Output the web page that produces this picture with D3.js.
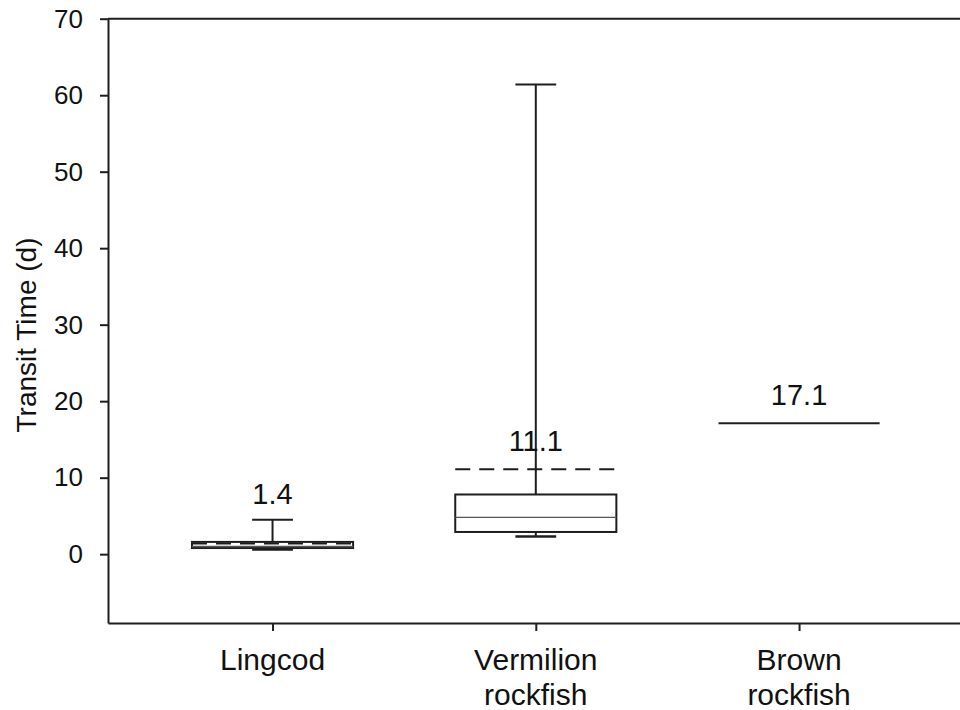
<!DOCTYPE html>
<html>
<head>
<meta charset="utf-8">
<script src="https://cdn.jsdelivr.net/npm/d3@7"></script>
<style>
  html, body { margin: 0; padding: 0; background: #fff; }
  svg { display: block; }
  text { font-family: "Liberation Sans", Arial, Helvetica, sans-serif; fill: #111; }
</style>
</head>
<body>
<svg id="chart" width="960" height="710"></svg>
<script>
// ---- data ----
const categories = ["Lingcod", "Vermilion rockfish", "Brown rockfish"];
const categoryLines = [["Lingcod"], ["Vermilion", "rockfish"], ["Brown", "rockfish"]];
const whiskerLow  = [0.6, 2.3, null];
const q1          = [0.8, 2.9, 17.1];
const median      = [1.0, 4.8, 17.1];
const q3          = [1.6, 7.8, 17.1];
const whiskerHigh = [4.5, 61.4, null];
const means       = [1.4, 11.1, 17.1];
const meanLabels  = ["1.4", "11.1", "17.1"];
const yTicks      = [0, 10, 20, 30, 40, 50, 60, 70];
const yTitle      = "Transit Time (d)";

// ---- layout ----
const svg = d3.select("#chart");
const plotLeft = 108, plotTop = 18.7, plotBottom = 623, plotRightEnd = 963.6;
const ink = "#1e1e1e";

const x = d3.scalePoint().domain(categories).range([plotLeft, plotRightEnd]).padding(0.625);
const y = d3.scaleLinear().domain([-9, 70]).range([plotBottom, plotTop]);

const boxW = x.step() * 0.612;
const capW = x.step() * 0.155;

// top frame line
svg.append("line")
  .attr("x1", plotLeft).attr("x2", plotRightEnd)
  .attr("y1", y(70)).attr("y2", y(70))
  .attr("stroke", ink).attr("stroke-width", 2);

// y axis
const yAxis = svg.append("g")
  .attr("transform", `translate(${plotLeft},0)`)
  .call(d3.axisLeft(y).tickValues(yTicks).tickSize(8).tickPadding(17).tickSizeOuter(0));
yAxis.select(".domain").attr("stroke", ink).attr("stroke-width", 2);
yAxis.selectAll(".tick line").attr("stroke", ink).attr("stroke-width", 2);
yAxis.selectAll(".tick text")
  .attr("font-size", 26)
  .style("font-family", '"Liberation Sans", Arial, sans-serif')
  .attr("fill", "#111");

// x axis
const xAxis = svg.append("g")
  .attr("transform", `translate(0,${plotBottom})`)
  .call(d3.axisBottom(x).tickSize(8).tickSizeOuter(0).tickFormat(""));
xAxis.select(".domain").attr("stroke", ink).attr("stroke-width", 2);
xAxis.selectAll(".tick line").attr("stroke", ink).attr("stroke-width", 2);

// category labels (multi-line)
categories.forEach((c, i) => {
  const t = svg.append("text")
    .attr("x", x(c))
    .attr("y", 669.5)
    .attr("text-anchor", "middle")
    .attr("font-size", 30);
  categoryLines[i].forEach((ln, j) => {
    t.append("tspan").attr("x", x(c)).attr("dy", j === 0 ? 0 : 35.5).text(ln);
  });
});

// y title
svg.append("text")
  .attr("transform", `translate(36,335) rotate(-90)`)
  .attr("text-anchor", "middle")
  .attr("font-size", 28)
  .text(yTitle);

// boxes
const g = svg.append("g");
categories.forEach((c, i) => {
  const cx = x(c);
  // whiskers
  if (whiskerHigh[i] != null) {
    g.append("line").attr("x1", cx).attr("x2", cx)
      .attr("y1", y(q3[i])).attr("y2", y(whiskerHigh[i]))
      .attr("stroke", ink).attr("stroke-width", 2);
    g.append("line").attr("x1", cx - capW / 2).attr("x2", cx + capW / 2)
      .attr("y1", y(whiskerHigh[i])).attr("y2", y(whiskerHigh[i]))
      .attr("stroke", ink).attr("stroke-width", 2);
  }
  if (whiskerLow[i] != null) {
    g.append("line").attr("x1", cx).attr("x2", cx)
      .attr("y1", y(q1[i])).attr("y2", y(whiskerLow[i]))
      .attr("stroke", ink).attr("stroke-width", 2);
    g.append("line").attr("x1", cx - capW / 2).attr("x2", cx + capW / 2)
      .attr("y1", y(whiskerLow[i])).attr("y2", y(whiskerLow[i]))
      .attr("stroke", ink).attr("stroke-width", 2.5);
  }
  // box
  const x0 = cx - boxW / 2, x1 = cx + boxW / 2;
  const yq3 = y(q3[i]), yq1 = y(q1[i]);
  if (Math.abs(yq1 - yq3) < 0.5) {
    g.append("line").attr("x1", x0).attr("x2", x1)
      .attr("y1", yq3).attr("y2", yq3)
      .attr("stroke", ink).attr("stroke-width", 2);
  } else {
    g.append("rect").attr("x", x0).attr("y", yq3)
      .attr("width", boxW).attr("height", yq1 - yq3)
      .attr("fill", "#fff").attr("stroke", ink).attr("stroke-width", 2);
    // median
    g.append("line").attr("x1", x0).attr("x2", x1)
      .attr("y1", y(median[i])).attr("y2", y(median[i]))
      .attr("stroke", "#555").attr("stroke-width", 1.3);
    // mean (dashed)
    g.append("line").attr("x1", x0).attr("x2", x1)
      .attr("y1", y(means[i])).attr("y2", y(means[i]))
      .attr("stroke", ink).attr("stroke-width", 2)
      .attr("stroke-dasharray", "15,9");
  }
  // mean label: above the top whisker if it is close to the mean, else above the mean line
  const anchorVal = (whiskerHigh[i] != null && whiskerHigh[i] < means[i] + 5) ? whiskerHigh[i] : means[i];
  const off = (anchorVal === means[i]) ? 18.5 : 16;
  svg.append("text")
    .attr("x", cx).attr("y", y(anchorVal) - off)
    .attr("text-anchor", "middle")
    .attr("font-size", 29)
    .text(meanLabels[i]);
});
</script>
</body>
</html>
